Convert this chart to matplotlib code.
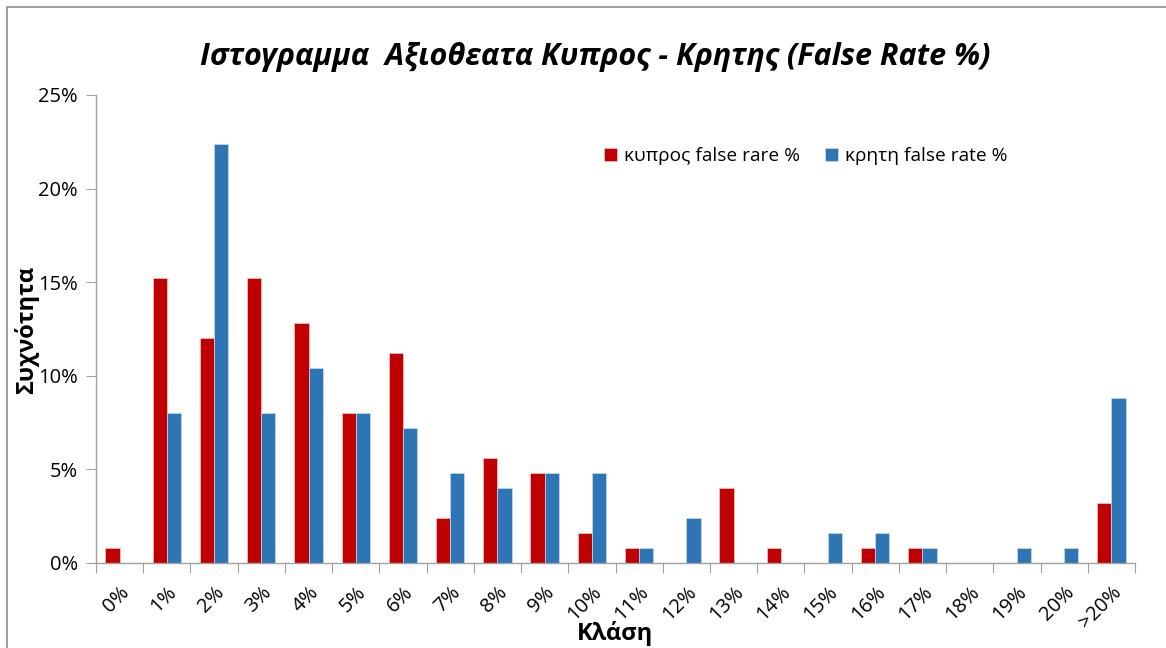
import matplotlib
matplotlib.use("Agg")
import matplotlib.pyplot as plt
import numpy as np
from matplotlib.patches import Rectangle
from matplotlib.ticker import FuncFormatter, MultipleLocator

plt.rcParams['font.family'] = ['Open Sans', 'DejaVu Sans']

# classes and relative frequencies (%)
classes = ['0%', '1%', '2%', '3%', '4%', '5%', '6%', '7%', '8%', '9%', '10%',
           '11%', '12%', '13%', '14%', '15%', '16%', '17%', '18%', '19%', '20%', '>20%']
cyprus = [0.8, 15.2, 12.0, 15.2, 12.8, 8.0, 11.2, 2.4, 5.6, 4.8, 1.6,
          0.8, 0.0, 4.0, 0.8, 0.0, 0.8, 0.8, 0.0, 0.0, 0.0, 3.2]
crete = [0.0, 8.0, 22.4, 8.0, 10.4, 8.0, 7.2, 4.8, 4.0, 4.8, 4.8,
         0.8, 2.4, 0.0, 0.0, 1.6, 1.6, 0.8, 0.0, 0.8, 0.8, 8.8]
series_names = ['κυπρος false rare %', 'κρητη false rate %']

RED = '#C00000'
BLUE = '#2E75B6'
W, H = 1166, 648

fig = plt.figure(figsize=(W / 100, H / 100), dpi=100)
ax = fig.add_axes([96 / W, 1 - 563 / H, (1135 - 96) / W, (563 - 95) / H])

x = np.arange(len(classes))
bw = 0.3
ax.bar(x - bw / 2, cyprus, bw, color=RED, edgecolor='#f0c8c8', linewidth=0.5, label=series_names[0])
ax.bar(x + bw / 2, crete, bw, color=BLUE, edgecolor='#c8dcf0', linewidth=0.5, label=series_names[1])

ax.set_xlim(-0.5, len(classes) - 0.5)
ax.set_ylim(0, 25)
ax.yaxis.set_major_locator(MultipleLocator(5))
ax.yaxis.set_major_formatter(FuncFormatter(lambda v, p: f"{v:.0f}%"))

for s in ['top', 'right']:
    ax.spines[s].set_visible(False)
for s in ['left', 'bottom']:
    ax.spines[s].set_color('#a0a0a0')
    ax.spines[s].set_linewidth(1.0)

# category boundary ticks on x
ax.set_xticks(np.arange(len(classes) + 1) - 0.5)
ax.set_xticklabels([])
ax.set_xticks(x, minor=True)
ax.set_xticklabels(classes, minor=True, rotation=45, ha='right', va='top',
                   rotation_mode='anchor', fontsize=14.5)
ax.tick_params(axis='x', which='minor', length=0, pad=14)
ax.tick_params(axis='x', which='major', length=7, color='#a0a0a0')
ax.tick_params(axis='y', length=7, color='#a0a0a0', labelsize=14.5, pad=6)

ax.legend(loc='upper left', bbox_to_anchor=(0.4725, 0.925), ncol=2, frameon=False,
          fontsize=13.8, handlelength=0.65, handleheight=0.65, handletextpad=0.4,
          columnspacing=1.3)

fig.text(595 / W, 1 - 57 / H, 'Ιστογραμμα  Αξιοθεατα Κυπρος - Κρητης (False Rate %)',
         ha='center', va='center', fontsize=22, fontweight='bold', fontstyle='italic')
fig.text(27 / W, 1 - 330 / H, 'Συχνότητα', ha='center', va='center', rotation=90,
         fontsize=17, fontweight='bold')
fig.text(615 / W, 1 - 633 / H, 'Κλάση', ha='center', va='center',
         fontsize=17, fontweight='bold')

# chart frame (only left and top edges visible in the crop)
fig.patches.append(Rectangle((7 / W, -0.1), 1.2, 1 - 7 / H + 0.1, transform=fig.transFigure,
                             fill=False, edgecolor='#8c8c8c', linewidth=1.2))

fig.savefig('out.png', dpi=100)
